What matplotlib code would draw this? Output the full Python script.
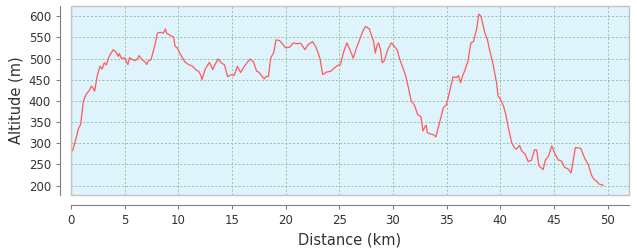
#!/usr/bin/env python3

import matplotlib
matplotlib.use('Agg')
import matplotlib.pyplot as plt
from matplotlib.patches import Rectangle

# elevation profile
dist = [0, 0.15, 0.4, 0.7, 0.9, 1.15, 1.4, 1.7, 1.9, 2.1, 2.2, 2.45, 2.7, 2.9, 3.1, 3.3, 3.5, 3.7, 3.95,
        4.2, 4.4, 4.5, 4.7, 5.0, 5.2, 5.3, 5.45, 5.7, 6.0, 6.2, 6.35, 6.6, 6.9, 7.05, 7.2, 7.45, 7.8,
        8.05, 8.3, 8.6, 8.8, 8.9, 9.2, 9.55, 9.7, 9.9, 10.2, 10.6, 10.95, 11.3, 11.7, 11.9, 12.1, 12.2,
        12.5, 12.9, 13.2, 13.4, 13.7, 14.0, 14.3, 14.6, 14.9, 15.2, 15.5, 15.8, 16.1, 16.4, 16.7, 17.0,
        17.3, 17.5, 17.8, 18.0, 18.2, 18.4, 18.6, 18.9, 19.1, 19.4, 19.7, 20.0, 20.4, 20.7, 21.0, 21.4,
        21.8, 22.1, 22.5, 22.8, 23.0, 23.2, 23.45, 23.8, 24.2, 24.5, 24.86, 25.1, 25.4, 25.7, 26.0, 26.3,
        26.6, 26.9, 27.2, 27.45, 27.8, 28.0, 28.2, 28.35, 28.5, 28.66, 28.85, 29.0, 29.2, 29.5, 29.84,
        30.1, 30.4, 30.6, 30.9, 31.2, 31.45, 31.7, 32.0, 32.3, 32.6, 32.8, 33.0, 33.1, 33.2, 33.5, 33.8,
        34.0, 34.3, 34.7, 35.0, 35.3, 35.6, 35.9, 36.1, 36.3, 36.5, 36.7, 37.0, 37.26, 37.5, 37.8, 38.0,
        38.2, 38.57, 38.8, 39.0, 39.3, 39.65, 39.8, 40.0, 40.3, 40.5, 40.75, 41.06, 41.3, 41.5, 41.8,
        42.0, 42.3, 42.6, 42.9, 43.2, 43.4, 43.6, 44.0, 44.2, 44.5, 44.8, 45.1, 45.4, 45.7, 46.0, 46.3,
        46.6, 46.8, 47.0, 47.5, 47.9, 48.2, 48.5, 48.7, 49.0, 49.2, 49.6]
alt = [280, 283, 305, 335, 345, 400, 415, 425, 435, 428, 423, 460, 482, 475, 490, 485, 502, 512, 521,
       515, 505, 512, 500, 502, 490, 486, 502, 498, 495, 500, 507, 498, 492, 486, 495, 497, 530,
       560, 562, 560, 570, 560, 555, 551, 529, 525, 510, 492, 486, 482, 472, 470, 460, 450,
       475, 491, 474, 485, 499, 490, 485, 457, 462, 460, 482, 467, 480, 490, 499, 492,
       470, 468, 458, 452, 458, 458, 501, 515, 544, 543, 535, 525, 527, 537, 535, 536,
       521, 533, 540, 528, 515, 500, 462, 468, 470, 477, 484, 485, 515, 537, 520, 501,
       525, 545, 565, 576, 570, 555, 540, 513, 530, 537, 520, 490, 495, 520, 537,
       530, 520, 501, 480, 458, 430, 400, 390, 368, 363, 329, 340, 343, 325, 322, 320,
       315, 345, 384, 392, 425, 457, 455, 460, 443, 460, 472, 495, 537, 540, 570, 605,
       600, 560, 545, 521, 490, 443, 411, 405, 388, 370, 337, 302, 290, 286, 295,
       282, 275, 257, 260, 285, 284, 247, 238, 260, 270, 294, 275, 261, 258, 243, 240,
       230, 260, 290, 288, 263, 250, 225, 216, 210, 204, 201]

xticks = list(range(0, 51, 5))
yticks = list(range(200, 601, 50))

fig = plt.figure(figsize=(6.37, 2.5), dpi=100)
ax = fig.add_axes([0.1115, 0.22, 0.876, 0.756])
ax.set_facecolor('#dff3fd')

ax.plot(dist, alt, color='#ff5a5a', linewidth=0.9, zorder=3)

ax.set_xlim(0, 52)
ax.set_ylim(178, 624)
ax.set_xticks(xticks)
ax.set_yticks(yticks)
ax.grid(True, color='#8ac79a', linestyle=(0, (2, 2)), linewidth=0.7)
ax.axvline(0, color='#8a9ac8', linestyle=(0, (2, 2)), linewidth=0.9, zorder=2)

# axes sit a little away from the plot area
for side in ['top', 'right']:
    ax.spines[side].set_visible(False)
ax.spines['left'].set_position(('outward', 8))
ax.spines['bottom'].set_position(('outward', 7))
for side in ['left', 'bottom']:
    ax.spines[side].set_color('#808080')
ax.add_patch(Rectangle((0, 0), 1, 1, transform=ax.transAxes, fill=False,
                       edgecolor='#c4c4c4', linewidth=1.0, clip_on=False, zorder=4))

ax.tick_params(axis='both', colors='#808080', labelcolor='#333333', labelsize=8.5, length=3)
ax.set_xlabel('Distance (km)', fontsize=10.5, color='#333333', labelpad=4)
ax.set_ylabel('Altitude (m)', fontsize=10.5, color='#333333', labelpad=4)

plt.savefig('out.png', dpi=100)
